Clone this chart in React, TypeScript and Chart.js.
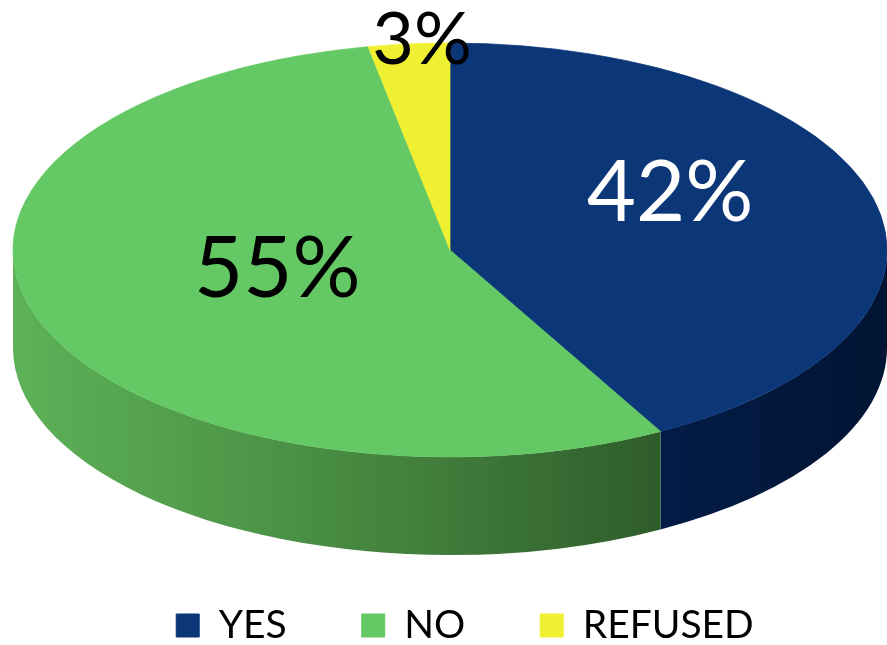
import React, { useEffect, useRef } from "react";
import { Chart, registerables } from "chart.js";

Chart.register(...registerables);

const categories = ["YES", "NO", "REFUSED"];
const values = [42, 55, 3];
const topColors = ["#0B3678", "#64C864", "#F0F032"];
const sideStops: [number, string][][] = [
  [[0, "#04204F"], [0.75, "#031C46"], [1, "#021433"]],
  [[0, "#5DB257"], [0.27, "#4E9648"], [0.5, "#407B3A"], [0.76, "#2D5A2A"], [1, "#26502A"]],
  [[0, "#C8C828"], [1, "#A0A020"]],
];
const labelColors = ["#FFFFFF", "#000000", "#000000"];
const labelSizes = [85, 85, 72];
const labelRadius = [0.52, 0.42, 1.0];
const labelNudge: [number, number][] = [[0, -30], [0, -10], [13, -3]];

const TILT = 0.4737;
const DEPTH = 98;

// The pie's top face is anchored to the chart area's top-left corner.
function geometry(chart: any) {
  const arcs = chart.getDatasetMeta(0).data;
  const a0 = arcs[0].getProps(["x", "y", "outerRadius"], true);
  const R = a0.outerRadius;
  const cx = chart.chartArea.left + R;
  const ry = R * TILT;
  const ecy = chart.chartArea.top + ry;
  return { arcs, a0, R, cx, ry, ecy };
}

const pie3d = {
  id: "pie3d",
  beforeDatasetsDraw(chart: any) {
    if (!chart.getDatasetMeta(0).data.length) return;
    const ctx = chart.ctx as CanvasRenderingContext2D;
    const { arcs, a0, R, cx, ry, ecy } = geometry(chart);
    ctx.save();
    arcs.forEach((arc: any, i: number) => {
      const p = arc.getProps(["startAngle", "endAngle"], true);
      const s = Math.max(p.startAngle, 0);
      const e = Math.min(p.endAngle, Math.PI);
      if (e <= s) return;
      const g = ctx.createLinearGradient(cx - R, 0, cx + R, 0);
      sideStops[i].forEach(([pos, c]) => g.addColorStop(pos, c));
      ctx.beginPath();
      ctx.ellipse(cx, ecy, R, ry, 0, s, e, false);
      ctx.ellipse(cx, ecy + DEPTH, R, ry, 0, e, s, true);
      ctx.closePath();
      ctx.fillStyle = g;
      ctx.fill();
    });
    ctx.restore();
    ctx.save();
    ctx.translate(cx - a0.x, chart.chartArea.top);
    ctx.scale(1, TILT);
    ctx.translate(0, -(a0.y - R));
  },
  afterDatasetsDraw(chart: any) {
    if (!chart.getDatasetMeta(0).data.length) return;
    const ctx = chart.ctx as CanvasRenderingContext2D;
    ctx.restore();
    const { arcs, R, cx, ry, ecy } = geometry(chart);
    ctx.save();
    ctx.textAlign = "center";
    ctx.textBaseline = "middle";
    arcs.forEach((arc: any, i: number) => {
      const p = arc.getProps(["startAngle", "endAngle"], true);
      const mid = (p.startAngle + p.endAngle) / 2;
      const f = labelRadius[i];
      const x = cx + f * R * Math.cos(mid) + labelNudge[i][0];
      const y = ecy + f * ry * Math.sin(mid) + labelNudge[i][1];
      ctx.font = `${labelSizes[i]}px Lato`;
      ctx.fillStyle = labelColors[i];
      ctx.fillText(`${values[i]}%`, x, y);
    });
    ctx.restore();
  },
};

export default function App() {
  const ref = useRef<HTMLCanvasElement>(null);
  useEffect(() => {
    document.body.style.margin = "0";
    const chart = new Chart(ref.current!, {
      type: "pie",
      data: {
        labels: categories,
        datasets: [
          {
            data: values,
            backgroundColor: topColors,
            borderColor: topColors,
            borderWidth: 1,
            radius: 437,
            clip: false,
          } as any,
        ],
      },
      options: {
        animation: false,
        responsive: false,
        layout: { padding: { top: 43, left: 13, right: -30, bottom: -10 } },
        plugins: {
          tooltip: { enabled: false },
          legend: {
            position: "bottom",
            labels: {
              font: { family: "Lato", size: 39 },
              color: "#000000",
              boxWidth: 23,
              boxHeight: 23,
              padding: 75,
            },
          },
        },
      },
      plugins: [pie3d],
    });
    return () => chart.destroy();
  }, []);
  return <canvas ref={ref} width={887} height={645} style={{ display: "block" }} />;
}
